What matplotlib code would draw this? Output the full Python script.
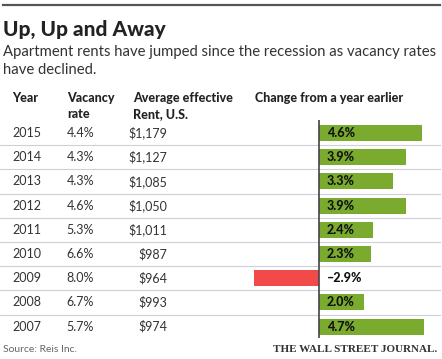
import matplotlib.pyplot as plt

# Datos de la tabla
years = ['2015', '2014', '2013', '2012', '2011', '2010', '2009', '2008', '2007']
vacancy = ['4.4%', '4.3%', '4.3%', '4.6%', '5.3%', '6.6%', '8.0%', '6.7%', '5.7%']
rents = ['$1,179', '$1,127', '$1,085', '$1,050', '$1,011', '$987', '$964', '$993', '$974']
change = [4.6, 3.9, 3.3, 3.9, 2.4, 2.3, -2.9, 2.0, 4.7]

W, H = 442, 359
row0, step = 133, 24.2
green = '#7aab2e'
red = '#f24a48'
txt = '#333333'

plt.rcParams['font.family'] = ['Lato', 'DejaVu Sans']

fig = plt.figure(figsize=(W / 100, H / 100), dpi=100)
ax = fig.add_axes([0, 0, 1, 1])
ax.set_xlim(0, W)
ax.set_ylim(H, 0)
ax.axis('off')

# Línea superior y títulos
ax.plot([3, 440], [5, 5], color='#555555', lw=1.6)
ax.text(3, 29, 'Up, Up and Away', fontsize=15, fontweight='black', color='#222222', va='center')
ax.text(3, 52, 'Apartment rents have jumped since the recession as vacancy rates',
        fontsize=10.7, color=txt, va='center')
ax.text(3, 70, 'have declined.', fontsize=10.7, color=txt, va='center')

# Encabezados
hdr = dict(fontsize=9, fontweight='black', color='#222222', va='center')
ax.text(12, 98, 'Year', **hdr)
ax.text(67, 98, 'Vacancy', **hdr)
ax.text(67, 114, 'rate', **hdr)
ax.text(133, 98, 'Average effective', **hdr)
ax.text(133, 114, 'Rent, U.S.', **hdr)
ax.text(255, 98, 'Change from a year earlier', **hdr)

# Filas
for i in range(len(years)):
    y = row0 + step * i
    ax.text(12, y, years[i], fontsize=9, color=txt, va='center')
    ax.text(94, y, vacancy[i], fontsize=9, color=txt, va='center', ha='right')
    ax.text(167, y, rents[i], fontsize=9, color=txt, va='center', ha='right')
    if i < len(years) - 1:
        ax.plot([0, 440], [y + step / 2, y + step / 2], color='#cdd0da', lw=0.8, zorder=0)

# Fuente
ax.text(3, 349, 'Source: Reis Inc.', fontsize=7.5, color='#666666', va='center')
ax.text(437, 349, 'THE WALL STREET JOURNAL.', fontsize=8, fontweight='bold',
        family='Liberation Serif', color='#333333', va='center', ha='right')

# Barras
px = 22.4
zero = 319
left, right, top, bot = 250, 432, 120, 338
bx = fig.add_axes([left / W, 1 - bot / H, (right - left) / W, (bot - top) / H])
bx.set_xlim((left - zero) / px, (right - zero) / px)
bx.set_ylim((bot - row0) / step, (top - row0) / step)
bx.axis('off')
bx.patch.set_alpha(0)
cols = [green if v >= 0 else red for v in change]
bx.barh(range(len(change)), change, height=0.66, color=cols)
bx.axvline(0, color='#444444', lw=1.2)
for i, v in enumerate(change):
    lab = f'{v:.1f}%'.replace('-', '\u2013')
    bx.text(0.35, i, lab, fontsize=9, fontweight='black', color='#111111', va='center')

fig.savefig('out.png', dpi=100)
